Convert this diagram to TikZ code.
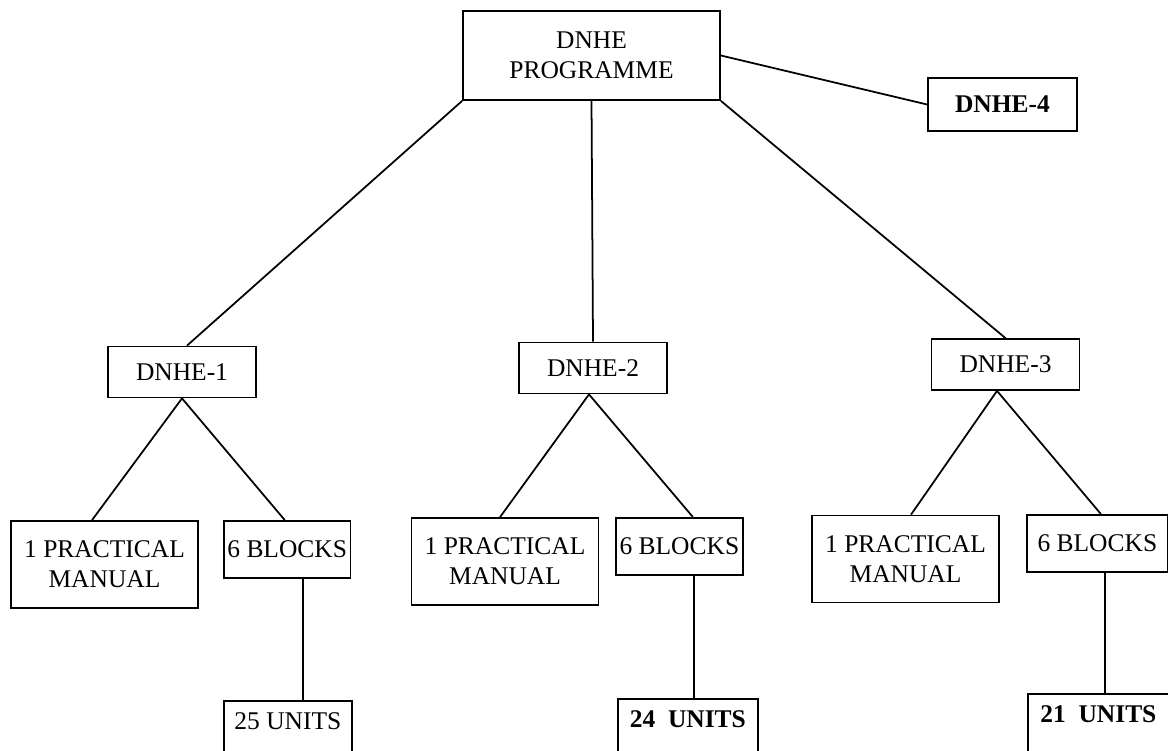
\documentclass[tikz,border=0pt]{standalone}
\usepackage{fontspec}
\setmainfont{Liberation Serif}

\begin{document}
\begin{tikzpicture}[x=0.02cm, y=-0.02cm, line width=1pt]
      \tikzstyle{box}=[draw, rectangle, inner sep=2pt, align=center, font=\fontsize{14.5}{17}\selectfont]
      \tikzstyle{module}=[box, minimum width=2.96cm, minimum height=1.02cm]
      \tikzstyle{manual}=[box, minimum width=3.74cm, minimum height=1.74cm]
      \tikzstyle{blocks}=[box, anchor=north west, minimum height=1.14cm]
      \tikzstyle{units}=[draw, rectangle, anchor=north west, inner sep=0pt, text height=0.58cm, text depth=0.8cm, font=\fontsize{14.5}{17}\selectfont]

      % Page frame
      \clip (0,0) rectangle (1168,750);

      % Draw the programme and the fourth course
      \node[box, minimum width=5.14cm, minimum height=1.78cm] (prog) at (591.5,55.5) {DNHE\\PROGRAMME};
      \node[box, minimum width=2.98cm, minimum height=1.06cm, font=\fontsize{14.5}{17}\selectfont\bfseries] (D-4) at (1002.5,104.5) {DNHE-4};

      % Draw the course nodes
      \foreach \name / \x / \y in {1/182/372, 2/593/368, 3/1005.5/364.5}
          \node[module] (D-\name) at (\x,\y) {DNHE-\name};

      % Draw the manuals and the blocks
      \foreach \name / \x / \y in {1/104.5/564.5, 2/505/561.5, 3/905.5/559}
          \node[manual] (M-\name) at (\x,\y) {1 PRACTICAL\\MANUAL};
      \foreach \name / \x / \y / \w in {1/223/520/2.5cm, 2/615/517/2.54cm, 3/1026/514/2.82cm}
          \node[blocks, minimum width=\w] (B-\name) at (\x,\y) {6 BLOCKS};

      % Draw the units
      \foreach \name / \x / \y / \w / \txt in {1/223/700/2.56cm/{25 UNITS}, 2/617/698/2.8cm/{\textbf{24\enspace UNITS}}, 3/1027/693/2.82cm/{\textbf{21\enspace UNITS}}}
          \node[units, minimum width=\w] (U-\name) at (\x,\y) {\txt};

      % Connect the programme with every course
      \draw (prog.south west) -- ([xshift=0.1cm]D-1.north);
      \draw (prog.south) -- (D-2.north);
      \draw (prog.south east) -- (D-3.north);
      \draw (prog.east) -- (D-4.west);

      % Connect every course with its manual and its blocks
      \foreach \name / \a / \m / \b / \v in {1/0cm/-0.25cm/-0.05cm/0.31cm, 2/-0.08cm/-0.1cm/0.27cm/0.29cm, 3/-0.17cm/0.11cm/0.07cm/0.15cm}
      {
          \draw ([xshift=\m]M-\name.north) -- ([xshift=\a]D-\name.south) -- ([xshift=\b]B-\name.north);
          \draw ([xshift=\v]B-\name.south) -- ([xshift=\v]B-\name.south |- U-\name.north);
      }
  \end{tikzpicture}
\end{document}
